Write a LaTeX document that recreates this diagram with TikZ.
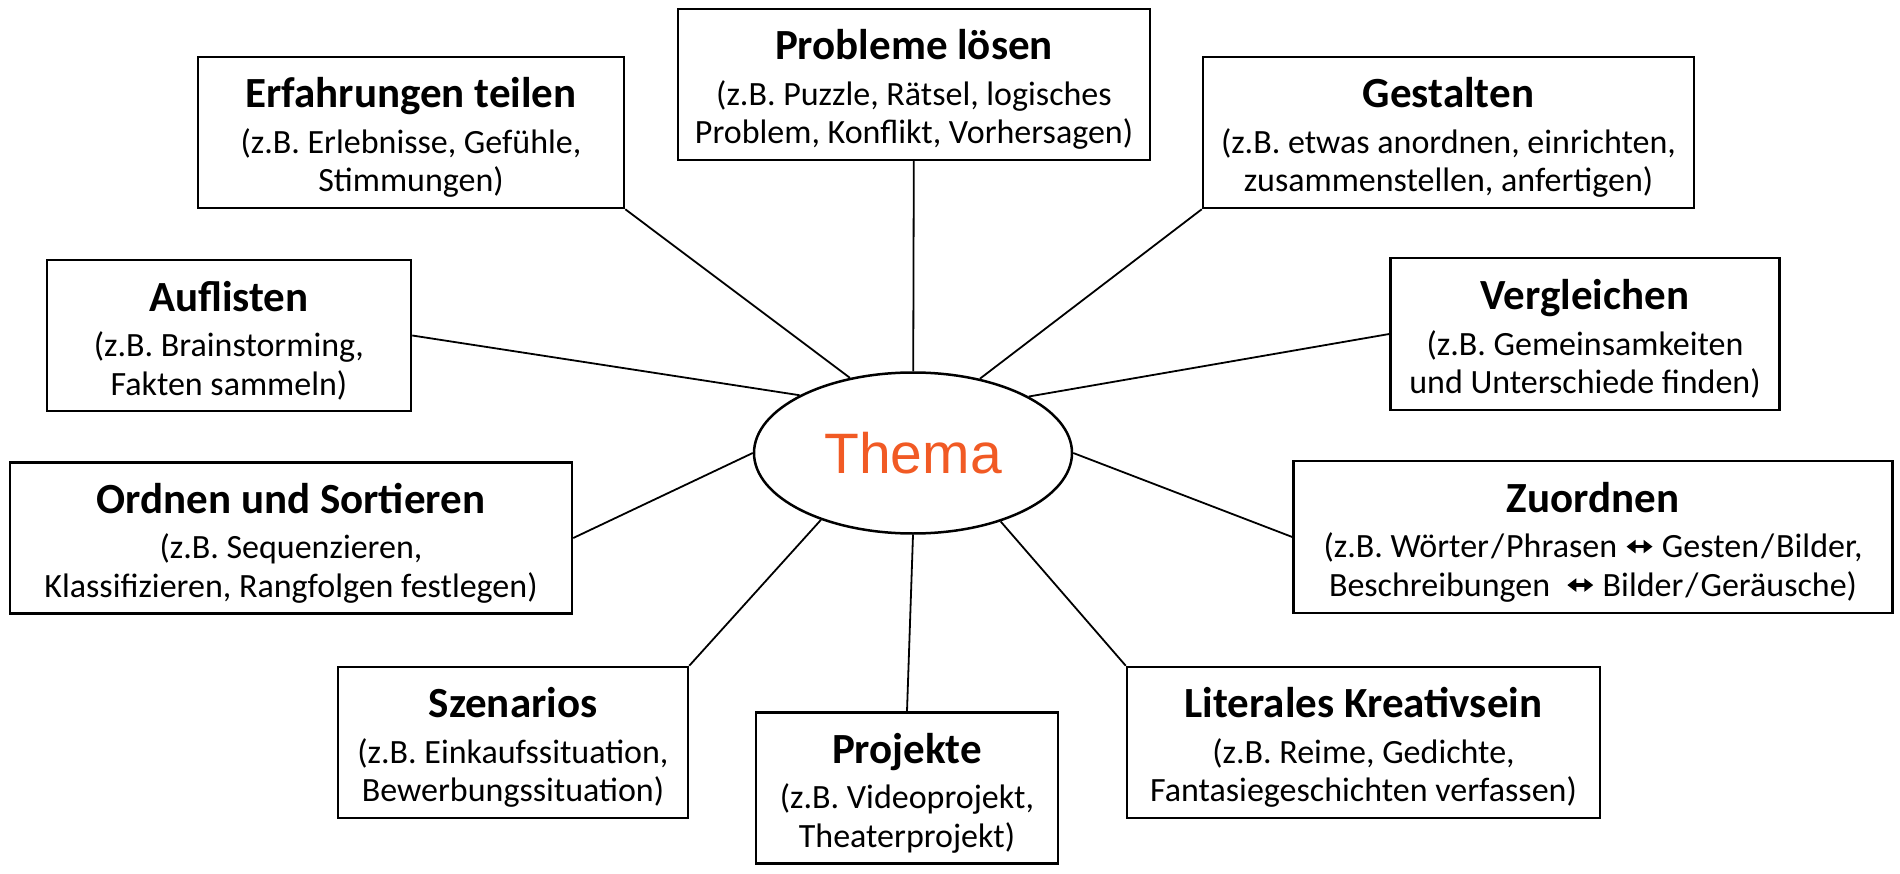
\documentclass[tikz,border=0pt]{standalone}
\usepackage{fontspec}
\setmainfont{Carlito}
\newfontfamily\themafont{Liberation Sans}
\usetikzlibrary{arrows.meta,shapes.geometric}
\definecolor{thema_orange}{RGB}{241, 90, 36}
\tikzstyle{box}=[rectangle,draw=black,line width=2.5pt,align=center,
  inner sep=0pt,font=\fontsize{34}{38.5}\selectfont]
\tikzstyle{thema}=[ellipse,draw=black,line width=2.5pt,inner sep=0pt,
  text=thema_orange,font=\themafont\fontsize{57}{60}\selectfont]
\tikzstyle{link}=[line width=1.8pt]
\newcommand{\hd}[1]{{\fontsize{43}{44}\selectfont\bfseries\rule{0pt}{40pt}#1}\\[7pt]}
\newcommand{\lrarrow}{\tikz[baseline=-11pt]\draw[line width=3.5pt,
  {Triangle[length=9pt,width=13pt]}-{Triangle[length=9pt,width=13pt]}]
  (0pt,0pt) -- (26pt,0pt);}

\begin{document}
\begin{tikzpicture}[x=1pt,y=-1pt]
		\useasboundingbox (0,0) rectangle (1900,874);
		\node [style=box, minimum width=472pt, minimum height=151pt] (0) at (914, 84.5) {\hd{Probleme lösen}(z.B. Puzzle, Rätsel, logisches\\Problem, Konflikt, Vorhersagen)};
		\node [style=box, minimum width=426pt, minimum height=151pt] (1) at (411, 132.5) {\hd{Erfahrungen teilen}(z.B. Erlebnisse, Gefühle,\\Stimmungen)};
		\node [style=box, minimum width=491pt, minimum height=151pt] (2) at (1448.5, 132.5) {\hd{Gestalten}(z.B. etwas anordnen, einrichten,\\zusammenstellen, anfertigen)};
		\node [style=box, minimum width=364pt, minimum height=151pt] (3) at (229, 335.5) {\hd{Auflisten}(z.B. Brainstorming,\\Fakten sammeln)};
		\node [style=box, minimum width=389pt, minimum height=152pt] (4) at (1585, 334) {\hd{Vergleichen}(z.B. Gemeinsamkeiten\\und Unterschiede finden)};
		\node [style=box, minimum width=562pt, minimum height=151pt] (5) at (291, 538) {\hd{Ordnen und Sortieren}(z.B. Sequenzieren,\\Klassifizieren, Rangfolgen festlegen)};
		\node [style=box, minimum width=599pt, minimum height=152pt] (6) at (1593, 537) {\hd{Zuordnen}(z.B. Wörter\kern2pt/\kern2pt Phrasen \lrarrow{} Gesten\kern2pt/\kern2pt Bilder,\\Beschreibungen\ \ \lrarrow\ Bilder\kern2pt/\kern2pt Geräusche)};
		\node [style=box, minimum width=350pt, minimum height=151pt] (7) at (513, 742.5) {\hd{Szenarios}(z.B. Einkaufssituation,\\Bewerbungssituation)};
		\node [style=box, minimum width=302pt, minimum height=151pt] (8) at (907, 788) {\hd{Projekte}(z.B. Videoprojekt,\\Theaterprojekt)};
		\node [style=box, minimum width=473pt, minimum height=151pt] (9) at (1363.5, 742.5) {\hd{Literales Kreativsein}(z.B. Reime, Gedichte,\\Fantasiegeschichten verfassen)};
		\node [style=thema, minimum width=318pt, minimum height=161pt] (10) at (913, 453) {Thema};
		\draw [style=link] (0) to (10);
		\draw [style=link] (1.south east) to (10.130);
		\draw [style=link] (2.south west) to (10.48);
		\draw [style=link] (3.east) to (10.153);
		\draw [style=link] (4.west) to (10.26);
		\draw [style=link] (5.east) to (10.west);
		\draw [style=link] (6.west) to (10.east);
		\draw [style=link] (7.north east) to (10.216);
		\draw [style=link] (8.north) to (10.south);
		\draw [style=link] (9.north west) to (10.322);
\end{tikzpicture}
\end{document}
